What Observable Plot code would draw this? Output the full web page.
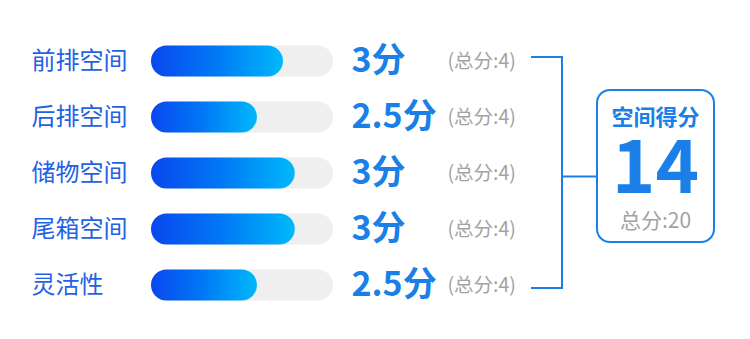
<!DOCTYPE html>
<html>
<head>
<meta charset="utf-8">
<script src="https://cdn.jsdelivr.net/npm/d3@7"></script>
<script src="https://cdn.jsdelivr.net/npm/@observablehq/plot@0.6"></script>
<style>
  html, body { margin: 0; padding: 0; background: #fff; }
  #chart { width: 750px; height: 339px; }
  svg { font-family: "Noto Sans CJK SC", "Noto Sans", sans-serif; }
</style>
</head>
<body>
<div id="chart"></div>
<script>
// ---- data ----
const categories = ["前排空间", "后排空间", "储物空间", "尾箱空间", "灵活性"];
const scores = [3, 2.5, 3, 3, 2.5];
const maxScores = [4, 4, 4, 4, 4];
// bar fill levels as drawn in the picture (score units)
const barLevels = [2.9, 2.33, 3.16, 3.16, 2.33];
const summaryTitle = "空间得分";
const scoreUnit = "分";
const totalPrefix = "总分:";

const rows = categories.map((c, i) => ({
  i, category: c, score: scores[i], max: maxScores[i], level: barLevels[i]
}));
const totalScore = d3.sum(scores);
const totalMax = d3.sum(maxScores);

const blue = "#1a80e8";
const gray = "#a3a3a3";
const half = 0.275;

function defsMark() {
  const defs = d3.create("svg:defs");
  const g = defs.append("linearGradient").attr("id", "barGrad")
    .attr("x1", "0").attr("x2", "1").attr("y1", "0").attr("y2", "0");
  g.append("stop").attr("offset", "0").attr("stop-color", "#0a47ee");
  g.append("stop").attr("offset", "0.5").attr("stop-color", "#0079f5");
  g.append("stop").attr("offset", "1").attr("stop-color", "#00b9fb");
  return defs.node();
}

function summaryMark(index, scales) {
  const y = scales.y;
  const top = y(0) - 4, bottom = y(rows.length - 1) + 3;
  const mid = (top + bottom) / 2 + 4;
  const L = {x0: 531, xv: 562, bx: 597, bw: 117, by: 90, bh: 152};
  const g = d3.create("svg:g");
  const s = g.append("g").attr("stroke", blue).attr("stroke-width", 2).attr("fill", "none");
  s.append("path").attr("d", `M${L.x0},${top}H${L.xv}V${bottom}H${L.x0}M${L.xv},${mid}H${L.bx}`);
  s.append("rect").attr("x", L.bx).attr("y", L.by).attr("width", L.bw).attr("height", L.bh)
    .attr("rx", 13).attr("ry", 13);
  const cx = L.bx + L.bw / 2;
  g.append("text").attr("x", cx).attr("y", 125).attr("text-anchor", "middle")
    .attr("fill", blue).attr("font-weight", 700).attr("font-size", 22).text(summaryTitle);
  g.append("text").attr("x", cx).attr("y", 193).attr("text-anchor", "middle")
    .attr("fill", blue).attr("font-weight", 700).attr("font-size", 74).text(totalScore);
  g.append("text").attr("x", cx).attr("y", 228).attr("text-anchor", "middle")
    .attr("fill", gray).attr("font-size", 21).text(totalPrefix + totalMax);
  return g.node();
}

const plot = Plot.plot({
  width: 750,
  height: 339,
  margin: 0,
  x: {domain: [0, 4], range: [151, 333], axis: null},
  y: {domain: [0, rows.length - 1], range: [61, 285], axis: null},
  marks: [
    defsMark,
    Plot.rect(rows, {x1: 0, x2: "max", y1: d => d.i - half, y2: d => d.i + half, fill: "#efefef", rx: 15.5}),
    Plot.rect(rows, {x1: 0, x2: "level", y1: d => d.i - half, y2: d => d.i + half, fill: "url(#barGrad)", rx: 15.5}),
    Plot.text(rows, {x: 0, y: "i", text: "category", textAnchor: "start", dx: -120,
      fill: "#1f62e4", fontSize: 24}),
    Plot.text(rows, {x: "max", y: "i", text: d => d.score + scoreUnit, textAnchor: "start", dx: 18,
      fill: blue, fontSize: 34, fontWeight: 700}),
    Plot.text(rows, {x: "max", y: "i", text: d => "(" + totalPrefix + d.max + ")", textAnchor: "start", dx: 114,
      fill: gray, fontSize: 19.5}),
    summaryMark
  ]
});
document.getElementById("chart").appendChild(plot);
</script>
</body>
</html>
